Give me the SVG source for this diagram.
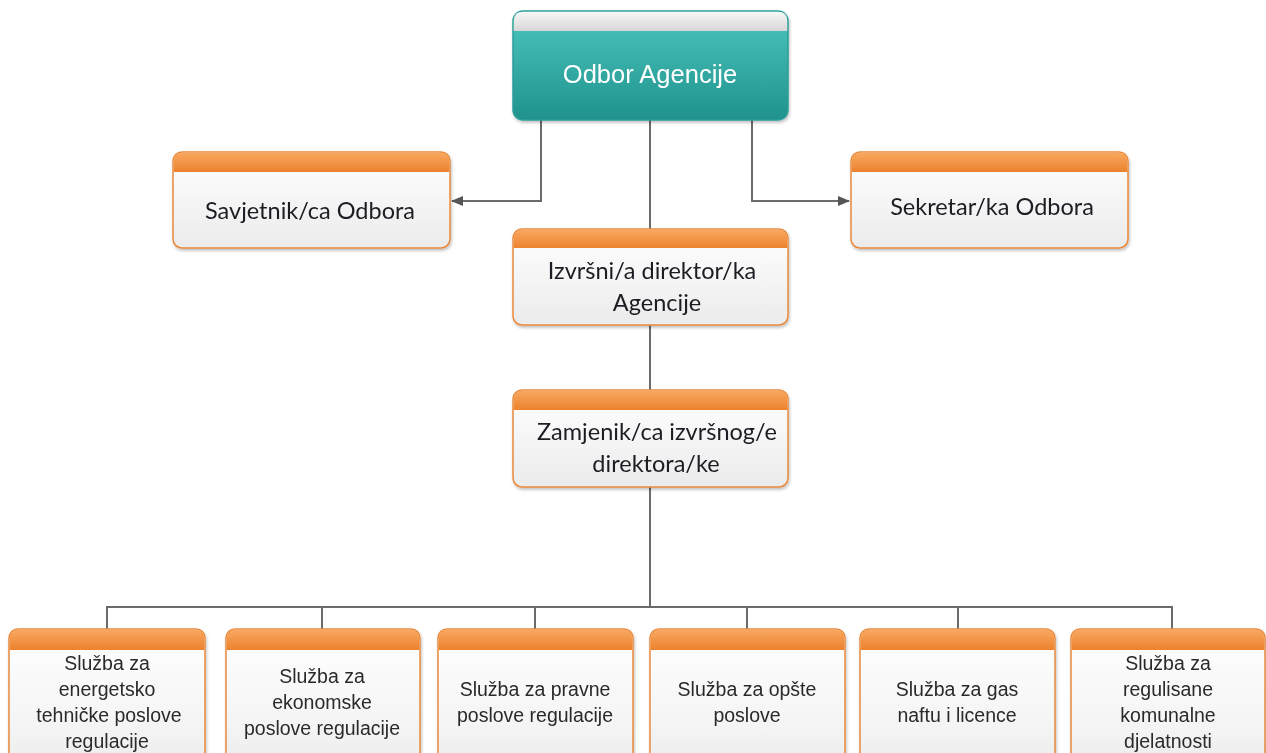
<svg xmlns="http://www.w3.org/2000/svg" width="1266" height="753" viewBox="0 0 1266 753">
<defs>
<linearGradient id="gHead" x1="0" y1="0" x2="0" y2="1"><stop offset="0" stop-color="#f8a860"/><stop offset="1" stop-color="#ec822e"/></linearGradient>
<linearGradient id="gBody" x1="0" y1="0" x2="0" y2="1"><stop offset="0" stop-color="#ffffff"/><stop offset="1" stop-color="#ebebeb"/></linearGradient>
<linearGradient id="gBodyLong" x1="0" y1="0" x2="0" y2="1"><stop offset="0" stop-color="#ffffff"/><stop offset="0.7" stop-color="#f4f4f4"/><stop offset="1" stop-color="#ebebeb"/></linearGradient>
<linearGradient id="gTeal" x1="0" y1="0" x2="0" y2="1"><stop offset="0" stop-color="#4cc6be"/><stop offset="1" stop-color="#1f928c"/></linearGradient>
<linearGradient id="gGray" x1="0" y1="0" x2="0" y2="1"><stop offset="0" stop-color="#f7f7f7"/><stop offset="1" stop-color="#d6d6d6"/></linearGradient>
<filter id="sh" x="-5%" y="-5%" width="112%" height="120%"><feDropShadow dx="1" dy="2" stdDeviation="1.5" flood-color="#000" flood-opacity="0.25"/></filter>
<marker id="arr" markerWidth="12" markerHeight="10" refX="11" refY="5" orient="auto" markerUnits="userSpaceOnUse"><path d="M0,0 L12,5 L0,10 Z" fill="#555"/></marker>
</defs>
<style>
.conn{fill:none;stroke:#6b6b6b;stroke-width:2}
.obox{fill:url(#gBody);stroke:#e8893c;stroke-width:1.5}
.obot{fill:url(#gBodyLong);stroke:#e8893c;stroke-width:1.5}
.ohead{fill:url(#gHead)}
.cal{font-family:Lato,"Open Sans",sans-serif;font-size:23.5px;fill:#1c1c24;text-anchor:middle}
.ar{font-family:"Liberation Sans",Arial,sans-serif;font-size:19.5px;fill:#2a2a2a;text-anchor:middle}
</style>
<rect width="1266" height="753" fill="#ffffff"/>
<g id="connectors">
<path class="conn" d="M541,120 V201 H452" marker-end="url(#arr)"/>
<path class="conn" d="M752,120 V201 H849" marker-end="url(#arr)"/>
<path class="conn" d="M650,120 V229"/>
<path class="conn" d="M650,325 V390"/>
<path class="conn" d="M650,487 V607"/>
<path class="conn" d="M107,629 V607 H1172 V629"/>
<path class="conn" d="M322,607 V629 M535,607 V629 M747,607 V629 M958,607 V629"/>
</g>
<g id="odbor" filter="url(#sh)">
<rect x="513" y="11" width="275" height="109" rx="10" fill="url(#gTeal)" stroke="#2a9f98" stroke-width="1.5"/>
<path d="M513.75,31 V21 Q513.75,11.75 523,11.75 H778 Q787.25,11.75 787.25,21 V31 Z" fill="url(#gGray)"/>
<text x="650" y="83" font-family="'Liberation Sans',Arial,sans-serif" font-size="25.5px" fill="#ffffff" text-anchor="middle">Odbor Agencije</text>
</g>
<g id="savjetnik" filter="url(#sh)">
<rect class="obox" x="173" y="152" width="277" height="96" rx="9"/>
<path class="ohead" d="M173.75,172 V161 Q173.75,152.75 182,152.75 H441 Q449.25,152.75 449.25,161 V172 Z"/>
<text class="cal" x="310" y="219">Savjetnik/ca Odbora</text>
</g>
<g id="sekretar" filter="url(#sh)">
<rect class="obox" x="851" y="152" width="277" height="96" rx="9"/>
<path class="ohead" d="M851.75,172 V161 Q851.75,152.75 860,152.75 H1119 Q1127.25,152.75 1127.25,161 V172 Z"/>
<text class="cal" x="992" y="215">Sekretar/ka Odbora</text>
</g>
<g id="izvrsni" filter="url(#sh)">
<rect class="obox" x="513" y="229" width="275" height="96" rx="9"/>
<path class="ohead" d="M513.75,248 V238 Q513.75,229.75 522,229.75 H779 Q787.25,229.75 787.25,238 V248 Z"/>
<text class="cal" x="652" y="279">Izvršni/a direktor/ka</text>
<text class="cal" x="657" y="311">Agencije</text>
</g>
<g id="zamjenik" filter="url(#sh)">
<rect class="obox" x="513" y="390" width="275" height="97" rx="9"/>
<path class="ohead" d="M513.75,410 V399 Q513.75,390.75 522,390.75 H779 Q787.25,390.75 787.25,399 V410 Z"/>
<text class="cal" x="657" y="440">Zamjenik/ca izvršnog/e</text>
<text class="cal" x="656" y="472">direktora/ke</text>
</g>
<g id="sluzba1" filter="url(#sh)">
<rect class="obot" x="9" y="629" width="196" height="140" rx="9"/>
<path class="ohead" d="M9.75,650 V638 Q9.75,629.75 18,629.75 H196 Q204.25,629.75 204.25,638 V650 Z"/>
<text class="ar" x="107" y="670">Služba za</text>
<text class="ar" x="107" y="696">energetsko</text>
<text class="ar" x="109" y="722">tehničke poslove</text>
<text class="ar" x="107" y="748">regulacije</text>
</g>
<g id="sluzba2" filter="url(#sh)">
<rect class="obot" x="226" y="629" width="194" height="140" rx="9"/>
<path class="ohead" d="M226.75,650 V638 Q226.75,629.75 235,629.75 H411 Q419.25,629.75 419.25,638 V650 Z"/>
<text class="ar" x="322" y="683">Služba za</text>
<text class="ar" x="322" y="709">ekonomske</text>
<text class="ar" x="322" y="735">poslove regulacije</text>
</g>
<g id="sluzba3" filter="url(#sh)">
<rect class="obot" x="438" y="629" width="195" height="140" rx="9"/>
<path class="ohead" d="M438.75,650 V638 Q438.75,629.75 447,629.75 H624 Q632.25,629.75 632.25,638 V650 Z"/>
<text class="ar" x="535" y="696">Služba za pravne</text>
<text class="ar" x="535" y="722">poslove regulacije</text>
</g>
<g id="sluzba4" filter="url(#sh)">
<rect class="obot" x="650" y="629" width="195" height="140" rx="9"/>
<path class="ohead" d="M650.75,650 V638 Q650.75,629.75 659,629.75 H836 Q844.25,629.75 844.25,638 V650 Z"/>
<text class="ar" x="747" y="696">Služba za opšte</text>
<text class="ar" x="747" y="722">poslove</text>
</g>
<g id="sluzba5" filter="url(#sh)">
<rect class="obot" x="860" y="629" width="195" height="140" rx="9"/>
<path class="ohead" d="M860.75,650 V638 Q860.75,629.75 869,629.75 H1046 Q1054.25,629.75 1054.25,638 V650 Z"/>
<text class="ar" x="957" y="696">Služba za gas</text>
<text class="ar" x="957" y="722">naftu i licence</text>
</g>
<g id="sluzba6" filter="url(#sh)">
<rect class="obot" x="1071" y="629" width="194" height="140" rx="9"/>
<path class="ohead" d="M1071.75,650 V638 Q1071.75,629.75 1080,629.75 H1256 Q1264.25,629.75 1264.25,638 V650 Z"/>
<text class="ar" x="1168" y="670">Služba za</text>
<text class="ar" x="1168" y="696">regulisane</text>
<text class="ar" x="1168" y="722">komunalne</text>
<text class="ar" x="1168" y="748">djelatnosti</text>
</g>
</svg>
